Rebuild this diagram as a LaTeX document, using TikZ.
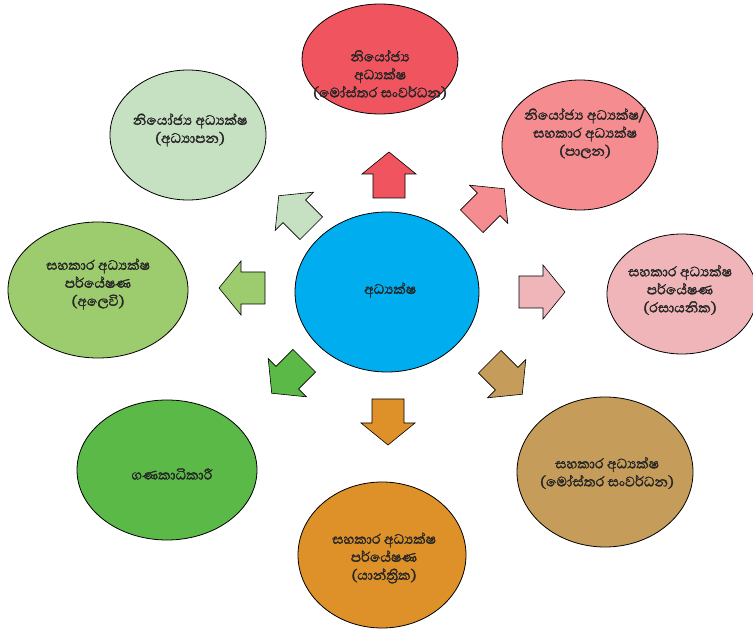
\documentclass[tikz,border=0pt]{standalone}
\usepackage{fontspec}
\newfontfamily\sinhalafont[Script=Sinhala, AutoFakeBold=1.6]{Abhaya Libre}
\usetikzlibrary{shapes.geometric}
\definecolor{cBlue}{HTML}{00AEEF}
\definecolor{cRed}{HTML}{F0545F}
\definecolor{cLGreen}{HTML}{C6E0C2}
\definecolor{cPink}{HTML}{F58C8F}
\definecolor{cGreen}{HTML}{9DCC6F}
\definecolor{cLPink}{HTML}{EFB5B8}
\definecolor{cDGreen}{HTML}{5BB947}
\definecolor{cTan}{HTML}{C69C5A}
\definecolor{cOrange}{HTML}{DE9128}
\tikzset{
  bubble/.style={ellipse, draw=black, line width=0.8pt, inner sep=0pt},
  lbl/.style={align=center, font=\sinhalafont\bfseries\fontsize{17.5}{18}\selectfont, text=black!85, inner sep=0pt},
  blockarrow/.style={draw=black, line width=0.6pt, line join=miter},
}
\newcommand\blockarr[4]{%
  \draw[blockarrow, fill=#4, shift={#2}, rotate=#3]
    (-23,-16) -- (1,-16) -- (1,-27) -- (23,0) -- (1,27) -- (1,16) -- (-23,16) -- cycle;
  \coordinate (#1) at #2;}
\begin{document}
\begin{tikzpicture}[x=1pt,y=1pt]
\useasboundingbox (0,0) rectangle (753,630);
% ellipses
\node[bubble, fill=cBlue, minimum width=184, minimum height=160] (dir) at (387,338) {};
\node[bubble, fill=cRed, minimum width=156, minimum height=110] (top) at (380,571) {};
\node[bubble, fill=cLGreen, minimum width=156, minimum height=130] (ul) at (188,495) {};
\node[bubble, fill=cPink, minimum width=156, minimum height=130] (ur) at (580,485) {};
\node[bubble, fill=cGreen, minimum width=180, minimum height=136] (lft) at (98,340) {};
\node[bubble, fill=cLPink, minimum width=150, minimum height=120] (rgt) at (682,336) {};
\node[bubble, fill=cDGreen, minimum width=180, minimum height=140] (bl) at (167,160) {};
\node[bubble, fill=cTan, minimum width=176, minimum height=150] (br) at (605,158) {};
\node[bubble, fill=cOrange, minimum width=168, minimum height=146] (bot) at (382,75) {};
% texts
\node[lbl] (tdir) at (390,340) {අධ්‍යක්ෂ};
\node[lbl] (ttop) at (380,555) {නියෝජ්‍ය\\අධ්‍යක්ෂ\\(මෝස්තර සංවර්ධන)};
\node[lbl] (tul) at (190,500) {නියෝජ්‍ය අධ්‍යක්ෂ\\(අධ්‍යාපන)};
\node[lbl] (tur) at (585,497) {නියෝජ්‍ය අධ්‍යක්ෂ/\\සහකාර අධ්‍යක්ෂ\\(පාලන)};
\node[lbl] (tlft) at (98,346) {සහකාර අධ්‍යක්ෂ\\පර්යේෂණ\\(අලෙවි)};
\node[lbl] (trgt) at (680,340) {සහකාර අධ්‍යක්ෂ\\පර්යේෂණ\\(රසායනික)};
\node[lbl] (tbl) at (172,156) {ගණකාධිකාරී};
\node[lbl] (tbr) at (607,157) {සහකාර අධ්‍යක්ෂ\\(මෝස්තර සංවර්ධන)};
\node[lbl] (tbot) at (384,72) {සහකාර අධ්‍යක්ෂ\\පර්යේෂණ\\(යාන්ත්‍රික)};
% block arrows
\blockarr{aT}{(389,455)}{90}{cRed}
\blockarr{aUL}{(295,418)}{135}{cLGreen}
\blockarr{aUR}{(488,425)}{45}{cPink}
\blockarr{aL}{(242,342)}{180}{cGreen}
\blockarr{aR}{(542,338)}{0}{cLPink}
\blockarr{aLL}{(288,253)}{225}{cDGreen}
\blockarr{aD}{(388,208)}{270}{cOrange}
\blockarr{aLR}{(506,252)}{-45}{cTan}
\end{tikzpicture}
\end{document}
